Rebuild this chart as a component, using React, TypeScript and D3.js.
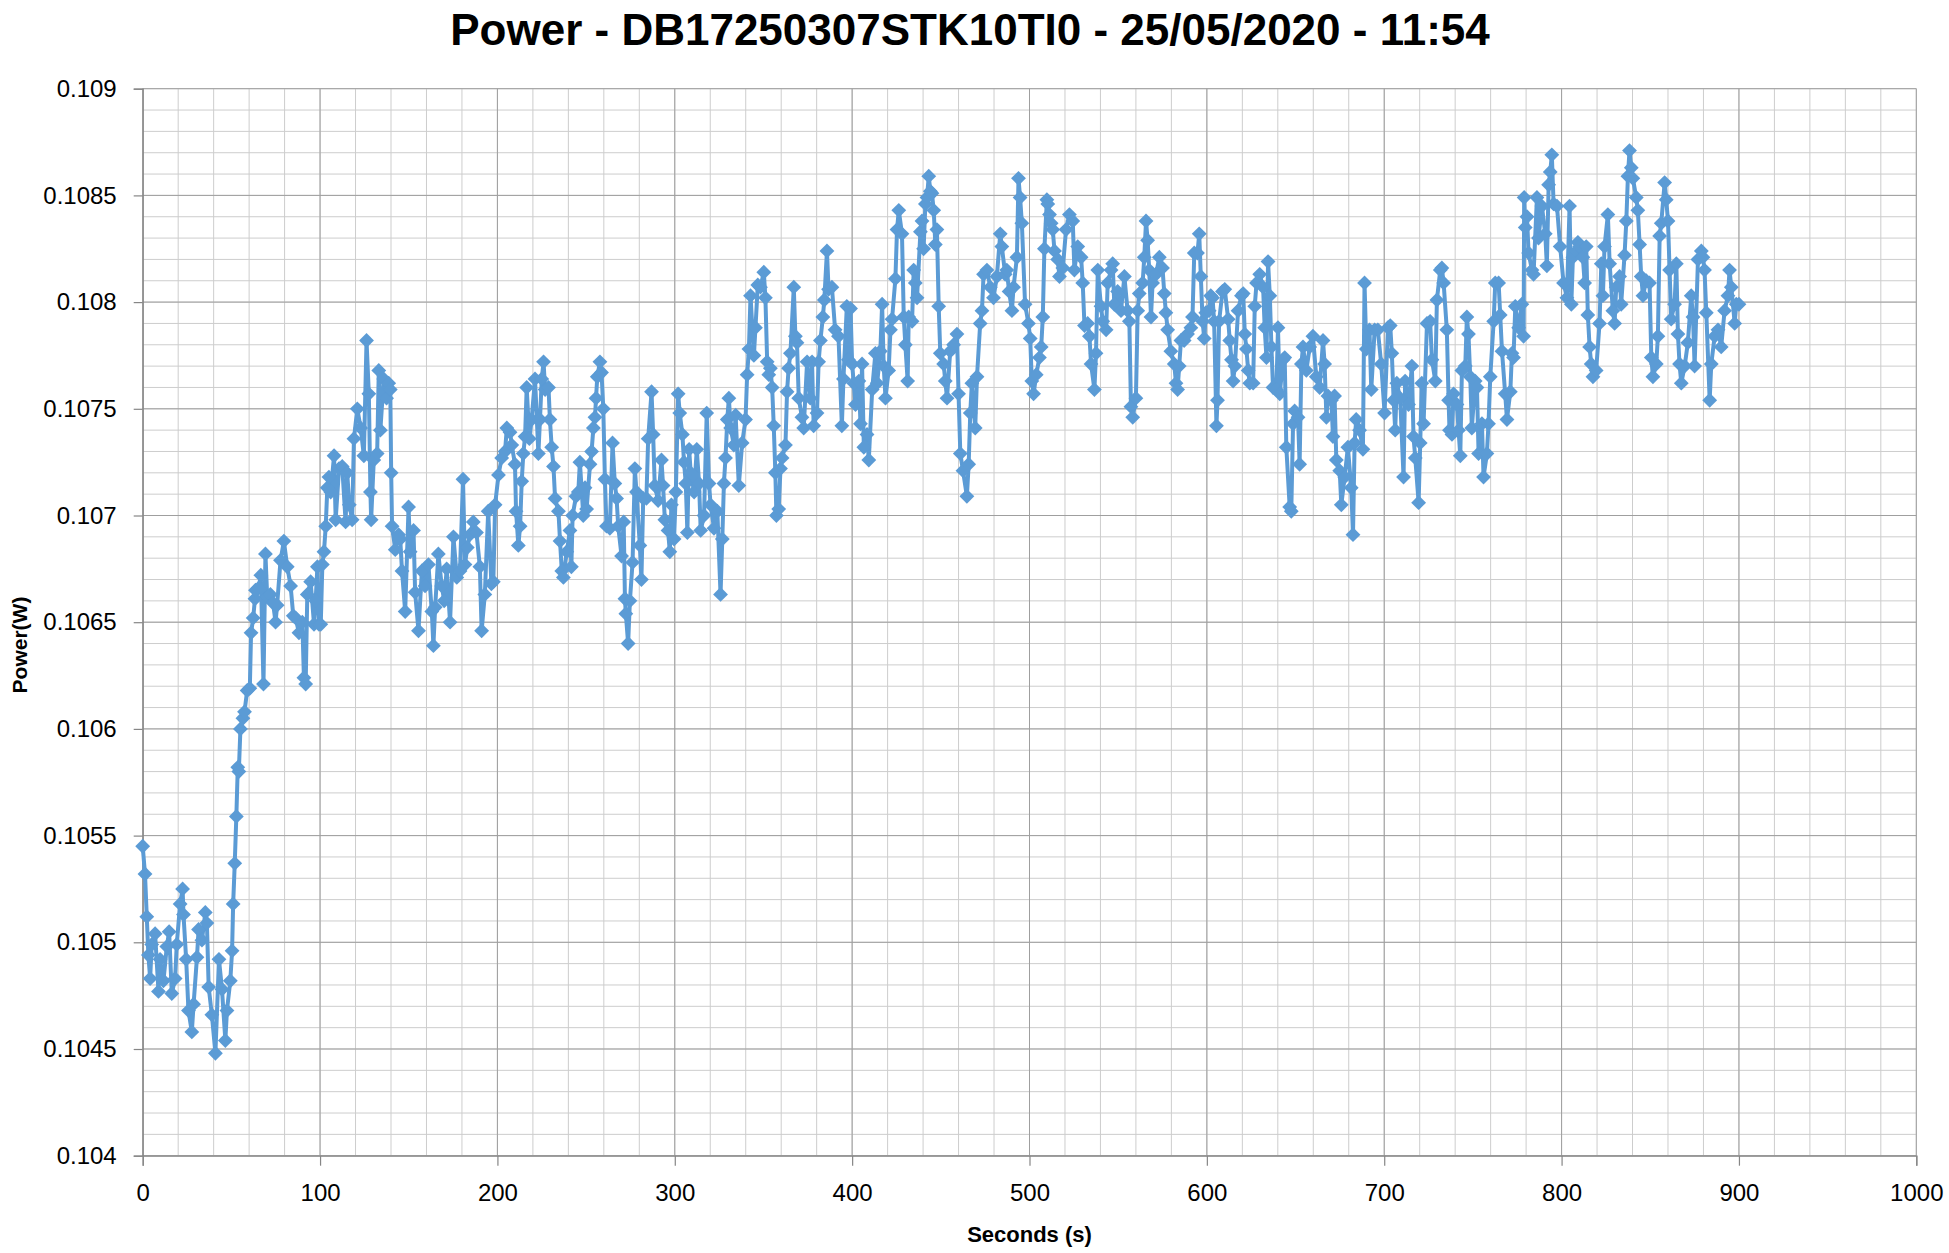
import React, { useEffect, useRef } from 'react';
import * as d3 from 'd3';

// elapsed time of each reading (s)
const seconds = [
  0, 1.3, 2.3, 3.2, 4.2, 5.1, 7.0, 8.9, 9.8, 11.7,
  13.6, 14.9, 16.4, 18.3, 19.2, 21.1, 22.5, 23.0, 24.5, 25.8,
  27.7, 28.7, 30.6, 31.5, 33.4, 35.3, 36.2, 37.2, 39.0, 41.0,
  43.0, 44.7, 46.6, 47.5, 49.4, 50.4, 51.0, 51.9, 52.8, 53.6,
  54.2, 55.1, 56.5, 57.4, 58.9, 60.4, 61.1, 62.3, 63.3, 63.6,
  65.3, 66.6, 68.1, 69.2, 70.2, 72.0, 73.5, 74.9, 75.8, 77.7,
  79.6, 81.5, 83.4, 84.9, 86.2, 88.1, 90.0, 90.9, 91.9, 92.8,
  94.7, 96.6, 97.5, 98.5, 99.4, 100.4, 101.3, 102.2, 103.2, 104.1,
  105.0, 106.0, 107.9, 108.8, 110.7, 112.5, 114.4, 115.3, 116.5, 118.1,
  119.1, 121.0, 122.9, 124.7, 126.2, 127.5, 128.4, 128.8, 130.3, 132.2,
  133.1, 134.0, 135.9, 137.5, 138.7, 139.6, 140.1, 140.6, 142.4, 144.3,
  145.2, 146.2, 148.0, 149.9, 150.8, 152.7, 153.6, 155.5, 157.4, 159.2,
  161.1, 163.0, 163.9, 164.9, 166.7, 168.6, 170.0, 171.4, 173.3, 175.2,
  177.1, 178.9, 180.6, 181.7, 183.0, 184.5, 186.4, 188.2, 190.1, 191.1,
  192.9, 194.8, 196.6, 197.7, 198.7, 200.6, 202.4, 204.3, 205.3, 207.1,
  208.1, 209.9, 210.5, 211.8, 212.8, 213.7, 214.6, 215.6, 216.5, 218.0,
  219.3, 221.2, 223.1, 224.0, 225.0, 226.0, 226.9, 228.8, 229.6, 230.6,
  231.6, 232.5, 234.4, 235.3, 236.3, 237.2, 239.1, 240.9, 241.7, 242.4,
  244.3, 245.6, 246.5, 248.4, 249.4, 250.3, 252.2, 253.1, 254.1, 255.0,
  255.6, 256.3, 257.8, 258.7, 259.7, 260.6, 261.5, 263.4, 264.9, 266.2,
  267.2, 268.1, 270.0, 271.2, 271.9, 272.4, 273.7, 274.7, 276.2, 277.5,
  278.4, 280.3, 281.2, 282.2, 284.0, 285.0, 286.9, 287.8, 288.7, 290.6,
  292.5, 293.4, 294.4, 296.2, 297.2, 298.1, 299.6, 300.6, 301.9, 302.8,
  304.3, 305.2, 306.2, 307.1, 308.1, 309.0, 310.9, 312.4, 313.7, 314.6,
  316.5, 318.0, 319.3, 320.2, 322.1, 324.0, 325.8, 326.8, 327.7, 328.6,
  329.6, 330.5, 331.5, 333.3, 334.3, 336.1, 338.0, 339.9, 340.8, 341.8,
  342.7, 344.6, 345.5, 346.8, 348.3, 350.2, 351.1, 352.1, 353.0, 353.9,
  354.9, 355.8, 356.7, 357.3, 358.6, 359.6, 360.5, 362.4, 363.3, 364.2,
  365.2, 367.1, 368.0, 368.9, 369.9, 371.7, 372.7, 374.6, 376.4, 377.4,
  378.3, 380.2, 381.1, 382.1, 383.5, 384.3, 385.8, 386.7, 388.6, 390.4,
  392.3, 394.2, 395.1, 397.0, 397.9, 399.1, 400.0, 400.9, 401.9, 403.8,
  404.7, 405.6, 406.6, 408.4, 409.4, 411.3, 413.1, 414.1, 415.9, 416.9,
  417.8, 418.8, 420.6, 421.6, 422.5, 424.4, 425.3, 426.3, 428.1, 429.1,
  430.0, 431.3, 431.9, 433.8, 434.7, 435.6, 436.6, 438.5, 439.4, 440.3,
  441.3, 442.2, 443.2, 444.1, 445.0, 446.0, 446.9, 447.8, 448.8, 449.7,
  451.6, 452.5, 453.5, 455.3, 457.2, 459.1, 460.0, 461.0, 462.5, 464.7,
  465.7, 466.6, 467.5, 469.4, 470.4, 472.2, 473.2, 474.1, 476.0, 477.9,
  479.7, 481.6, 483.5, 484.4, 486.3, 487.2, 488.5, 490.1, 491.0, 492.9,
  493.8, 494.7, 495.7, 497.5, 499.4, 500.4, 501.3, 502.3, 503.8, 505.6,
  506.6, 507.5, 508.4, 509.8, 510.3, 511.3, 512.2, 513.1, 514.1, 515.9,
  516.9, 518.8, 520.6, 522.5, 524.4, 525.3, 527.2, 529.1, 530.0, 531.0,
  532.8, 533.8, 534.7, 536.6, 537.5, 538.5, 540.3, 541.3, 543.2, 544.1,
  546.0, 546.9, 547.8, 549.7, 551.6, 553.5, 555.3, 556.3, 557.2, 558.2,
  560.0, 561.0, 561.9, 563.8, 564.7, 565.7, 566.6, 567.5, 568.5, 569.4,
  571.3, 573.2, 575.0, 576.0, 576.9, 577.9, 579.7, 581.6, 582.6, 583.5,
  584.4, 585.4, 587.2, 589.1, 591.0, 591.9, 592.9, 594.7, 595.7, 596.6,
  597.6, 598.5, 599.4, 601.3, 602.2, 603.2, 604.1, 605.4, 606.0, 606.9,
  608.8, 610.1, 612.0, 612.9, 613.9, 614.8, 615.8, 617.6, 619.5, 620.5,
  621.4, 622.3, 623.3, 624.2, 626.1, 627.0, 628.0, 629.8, 631.7, 632.6,
  633.6, 634.5, 635.5, 636.4, 637.3, 639.2, 640.1, 641.1, 643.0, 643.9,
  644.8, 646.7, 647.6, 648.6, 649.5, 651.4, 652.3, 653.3, 654.2, 656.1,
  658.0, 659.8, 661.7, 663.6, 665.5, 666.4, 667.4, 668.3, 670.2, 671.1,
  672.0, 673.0, 674.9, 675.8, 677.7, 679.5, 681.4, 682.4, 683.3, 684.2,
  686.1, 688.0, 688.9, 689.9, 691.7, 692.7, 694.6, 696.4, 698.3, 700.2,
  702.1, 703.4, 704.3, 705.3, 706.2, 707.1, 709.0, 710.9, 711.8, 713.7,
  715.6, 716.5, 717.5, 719.4, 720.3, 721.2, 722.2, 724.1, 725.9, 726.9,
  728.8, 729.7, 731.6, 732.5, 733.5, 735.3, 736.3, 736.8, 738.2, 739.1,
  741.0, 741.9, 742.9, 743.8, 745.7, 746.6, 747.5, 748.5, 749.4, 751.3,
  752.3, 753.2, 755.1, 756.0, 757.9, 758.8, 759.8, 761.7, 762.6, 764.5,
  765.4, 766.4, 768.2, 769.2, 771.1, 772.0, 772.9, 773.9, 775.8, 777.6,
  778.6, 778.9, 779.5, 780.5, 781.4, 783.3, 784.2, 786.1, 787.0, 788.9,
  790.8, 791.7, 792.7, 793.6, 794.5, 795.5, 797.4, 799.2, 801.1, 803.0,
  804.5, 805.5, 806.4, 808.3, 809.2, 810.2, 812.0, 813.0, 813.9, 814.8,
  815.8, 816.7, 817.7, 819.5, 821.4, 822.4, 823.3, 824.2, 826.1, 827.1,
  828.9, 829.9, 830.8, 832.7, 833.6, 835.5, 836.5, 837.4, 838.3, 839.3,
  840.2, 842.1, 843.0, 844.0, 844.9, 845.9, 847.7, 849.6, 850.6, 851.5,
  853.4, 854.3, 855.3, 856.2, 858.1, 859.0, 860.0, 860.9, 861.8, 863.7,
  864.7, 865.6, 866.5, 867.5, 869.4, 871.2, 873.1, 874.1, 875.0, 876.9,
  878.8, 879.7, 880.6, 881.6, 883.5, 884.4, 886.3, 888.2, 890.0, 891.9,
  893.8, 894.7, 895.7, 897.6, 898.5, 900.0,
];

// measured power (W), same order as seconds
const powerW = [
  0.10545, 0.10532, 0.10512, 0.10494, 0.10483, 0.10499, 0.10504, 0.10477, 0.10492, 0.10482,
  0.10498, 0.10505, 0.10476, 0.10483, 0.10499, 0.10518, 0.10525, 0.10513, 0.10492, 0.10468,
  0.10458, 0.10471, 0.10493, 0.10506, 0.10501, 0.10514, 0.10509, 0.10479, 0.10466, 0.10448,
  0.10492, 0.10478, 0.10454, 0.10468, 0.10482, 0.10496, 0.10518, 0.10537, 0.10559, 0.10582,
  0.10580, 0.10600, 0.10605, 0.10608, 0.10618, 0.10619, 0.10645, 0.10652, 0.10661, 0.10665,
  0.10666, 0.10672, 0.10621, 0.10682, 0.10662, 0.10663, 0.10659, 0.10650, 0.10658, 0.10679,
  0.10688, 0.10676, 0.10667, 0.10653, 0.10652, 0.10645, 0.10650, 0.10624, 0.10621, 0.10663,
  0.10669, 0.10649, 0.10660, 0.10676, 0.10649, 0.10649, 0.10677, 0.10683, 0.10695, 0.10713,
  0.10718, 0.10711, 0.10728, 0.10698, 0.10722, 0.10723, 0.10697, 0.10720, 0.10705, 0.10698,
  0.10736, 0.10750, 0.10741, 0.10728, 0.10782, 0.10757, 0.10711, 0.10698, 0.10726, 0.10729,
  0.10768, 0.10740, 0.10764, 0.10755, 0.10762, 0.10759, 0.10720, 0.10695, 0.10684, 0.10691,
  0.10689, 0.10674, 0.10655, 0.10704, 0.10683, 0.10693, 0.10664, 0.10646, 0.10674, 0.10667,
  0.10677, 0.10655, 0.10639, 0.10657, 0.10682, 0.10667, 0.10660, 0.10675, 0.10650, 0.10690,
  0.10671, 0.10674, 0.10717, 0.10677, 0.10685, 0.10691, 0.10697, 0.10692, 0.10676, 0.10646,
  0.10663, 0.10702, 0.10668, 0.10669, 0.10705, 0.10719, 0.10727, 0.10730, 0.10741, 0.10739,
  0.10733, 0.10724, 0.10702, 0.10686, 0.10695, 0.10716, 0.10729, 0.10737, 0.10760, 0.10736,
  0.10745, 0.10764, 0.10729, 0.10745, 0.10764, 0.10772, 0.10759, 0.10760, 0.10745, 0.10732,
  0.10723, 0.10708, 0.10702, 0.10688, 0.10674, 0.10671, 0.10683, 0.10693, 0.10676, 0.10700,
  0.10709, 0.10711, 0.10725, 0.10700, 0.10713, 0.10703, 0.10724, 0.10730, 0.10741, 0.10746,
  0.10755, 0.10765, 0.10772, 0.10767, 0.10750, 0.10717, 0.10695, 0.10694, 0.10734, 0.10715,
  0.10708, 0.10695, 0.10681, 0.10697, 0.10661, 0.10654, 0.10640, 0.10660, 0.10678, 0.10722,
  0.10711, 0.10686, 0.10670, 0.10708, 0.10708, 0.10736, 0.10758, 0.10738, 0.10714, 0.10707,
  0.10726, 0.10714, 0.10698, 0.10693, 0.10683, 0.10705, 0.10689, 0.10711, 0.10757, 0.10748,
  0.10738, 0.10725, 0.10715, 0.10692, 0.10731, 0.10720, 0.10711, 0.10731, 0.10715, 0.10693,
  0.10700, 0.10748, 0.10715, 0.10705, 0.10694, 0.10702, 0.10663, 0.10689, 0.10715, 0.10727,
  0.10745, 0.10755, 0.10741, 0.10733, 0.10747, 0.10714, 0.10734, 0.10745, 0.10766, 0.10778,
  0.10803, 0.10775, 0.10788, 0.10808, 0.10807, 0.10814, 0.10802, 0.10772, 0.10766, 0.10769,
  0.10760, 0.10742, 0.10720, 0.10700, 0.10703, 0.10722, 0.10727, 0.10733, 0.10758, 0.10769,
  0.10776, 0.10807, 0.10784, 0.10781, 0.10755, 0.10746, 0.10741, 0.10772, 0.10755, 0.10772,
  0.10742, 0.10748, 0.10772, 0.10782, 0.10793, 0.10801, 0.10824, 0.10806, 0.10807, 0.10787,
  0.10784, 0.10742, 0.10764, 0.10798, 0.10773, 0.10797, 0.10771, 0.10762, 0.10752, 0.10763,
  0.10743, 0.10771, 0.10732, 0.10738, 0.10726, 0.10759, 0.10776, 0.10762, 0.10777, 0.10799,
  0.10770, 0.10755, 0.10768, 0.10787, 0.10792, 0.10811, 0.10834, 0.10843, 0.10832, 0.10793,
  0.10780, 0.10763, 0.10793, 0.10791, 0.10815, 0.10809, 0.10802, 0.10833, 0.10838, 0.10825,
  0.10846, 0.10849, 0.10859, 0.10852, 0.10851, 0.10843, 0.10827, 0.10834, 0.10798, 0.10776,
  0.10771, 0.10763, 0.10755, 0.10777, 0.10780, 0.10785, 0.10757, 0.10729, 0.10721, 0.10709,
  0.10724, 0.10748, 0.10762, 0.10741, 0.10765, 0.10790, 0.10796, 0.10813, 0.10815, 0.10807,
  0.10802, 0.10812, 0.10832, 0.10826, 0.10813, 0.10815, 0.10805, 0.10796, 0.10807, 0.10821,
  0.10858, 0.10849, 0.10837, 0.10799, 0.10790, 0.10783, 0.10763, 0.10757, 0.10766, 0.10774,
  0.10779, 0.10793, 0.10825, 0.10848, 0.10846, 0.10841, 0.10837, 0.10834, 0.10824, 0.10820,
  0.10812, 0.10816, 0.10834, 0.10841, 0.10838, 0.10815, 0.10826, 0.10821, 0.10809, 0.10789,
  0.10790, 0.10784, 0.10771, 0.10759, 0.10776, 0.10815, 0.10798, 0.10791, 0.10787, 0.10809,
  0.10815, 0.10818, 0.10799, 0.10805, 0.10796, 0.10812, 0.10796, 0.10791, 0.10751, 0.10746,
  0.10755, 0.10796, 0.10804, 0.10809, 0.10821, 0.10838, 0.10829, 0.10815, 0.10793, 0.10809,
  0.10813, 0.10821, 0.10816, 0.10804, 0.10795, 0.10787, 0.10777, 0.10771, 0.10762, 0.10759,
  0.10770, 0.10782, 0.10782, 0.10785, 0.10788, 0.10793, 0.10823, 0.10823, 0.10832, 0.10812,
  0.10791, 0.10783, 0.10795, 0.10796, 0.10803, 0.10802, 0.10791, 0.10742, 0.10754, 0.10791,
  0.10805, 0.10806, 0.10792, 0.10782, 0.10773, 0.10763, 0.10770, 0.10796, 0.10803, 0.10804,
  0.10785, 0.10778, 0.10768, 0.10762, 0.10762, 0.10798, 0.10809, 0.10813, 0.10807, 0.10788,
  0.10774, 0.10819, 0.10803, 0.10779, 0.10760, 0.10759, 0.10788, 0.10757, 0.10773, 0.10774,
  0.10732, 0.10704, 0.10702, 0.10743, 0.10749, 0.10746, 0.10724, 0.10771, 0.10779, 0.10768,
  0.10779, 0.10784, 0.10765, 0.10760, 0.10782, 0.10771, 0.10746, 0.10756, 0.10754, 0.10737,
  0.10756, 0.10726, 0.10721, 0.10705, 0.10718, 0.10732, 0.10713, 0.10691, 0.10734, 0.10745,
  0.10740, 0.10731, 0.10809, 0.10778, 0.10787, 0.10759, 0.10787, 0.10787, 0.10771, 0.10748,
  0.10788, 0.10789, 0.10776, 0.10754, 0.10740, 0.10762, 0.10755, 0.10718, 0.10763, 0.10752,
  0.10770, 0.10737, 0.10727, 0.10706, 0.10734, 0.10762, 0.10743, 0.10790, 0.10791, 0.10773,
  0.10763, 0.10801, 0.10815, 0.10816, 0.10809, 0.10787, 0.10754, 0.10740, 0.10738, 0.10757,
  0.10752, 0.10740, 0.10728, 0.10768, 0.10770, 0.10793, 0.10785, 0.10765, 0.10741, 0.10763,
  0.10760, 0.10729, 0.10743, 0.10718, 0.10729, 0.10743, 0.10765, 0.10791, 0.10809, 0.10809,
  0.10794, 0.10777, 0.10757, 0.10745, 0.10758, 0.10776, 0.10774, 0.10798, 0.10788, 0.10799,
  0.10784, 0.10849, 0.10835, 0.10840, 0.10823, 0.10815, 0.10813, 0.10849, 0.10830, 0.10845,
  0.10832, 0.10817, 0.10855, 0.10861, 0.10869, 0.10846, 0.10845, 0.10826, 0.10809, 0.10802,
  0.10845, 0.10799, 0.10821, 0.10824, 0.10828, 0.10826, 0.10821, 0.10809, 0.10826, 0.10794,
  0.10779, 0.10771, 0.10765, 0.10768, 0.10790, 0.10818, 0.10803, 0.10826, 0.10841, 0.10818,
  0.10796, 0.10790, 0.10807, 0.10812, 0.10799, 0.10822, 0.10838, 0.10859, 0.10871, 0.10863,
  0.10858, 0.10849, 0.10843, 0.10827, 0.10812, 0.10803, 0.10810, 0.10809, 0.10774, 0.10765,
  0.10771, 0.10784, 0.10831, 0.10837, 0.10856, 0.10848, 0.10838, 0.10815, 0.10792, 0.10799,
  0.10818, 0.10785, 0.10771, 0.10762, 0.10770, 0.10781, 0.10803, 0.10793, 0.10770, 0.10820,
  0.10824, 0.10821, 0.10815, 0.10795, 0.10754, 0.10771, 0.10784, 0.10787, 0.10779, 0.10796,
  0.10803, 0.10815, 0.10807, 0.10790, 0.10799, 0.10799,
];

const xTicks = [0, 100, 200, 300, 400, 500, 600, 700, 800, 900, 1000];
const yTicks = [0.104, 0.1045, 0.105, 0.1055, 0.106, 0.1065, 0.107, 0.1075, 0.108, 0.1085, 0.109];

const TITLE = 'Power - DB17250307STK10TI0 - 25/05/2020 - 11:54';
const X_LABEL = 'Seconds (s)';
const Y_LABEL = 'Power(W)';

const WIDTH = 1949;
const HEIGHT = 1253;
const FONT = '"Liberation Sans", Arial, sans-serif';
const SERIES_COLOR = '#5b9bd5';

const App: React.FC = () => {
  const svgRef = useRef<SVGSVGElement>(null);

  useEffect(() => {
    if (!svgRef.current) return;
    const svg = d3.select(svgRef.current);
    svg.selectAll('*').remove();

    const margin = { top: 88.7, right: WIDTH - 1916.3, bottom: HEIGHT - 1155.7, left: 142.7 };
    const w = WIDTH - margin.left - margin.right;
    const h = HEIGHT - margin.top - margin.bottom;

    const x = d3.scaleLinear().domain([0, 1000]).range([0, w]);
    const y = d3.scaleLinear().domain([0.104, 0.109]).range([h, 0]);

    const g = svg.append('g').attr('transform', `translate(${margin.left},${margin.top})`);

    // minor grid (20 s / 0.0001 W)
    const minorX = x.ticks(50);
    const minorY = y.ticks(50);
    g.append('g').selectAll('line').data(minorX).join('line')
      .attr('x1', d => x(d)).attr('x2', d => x(d)).attr('y1', 0).attr('y2', h)
      .attr('stroke', '#cdcdcd').attr('stroke-width', 1);
    g.append('g').selectAll('line').data(minorY).join('line')
      .attr('x1', 0).attr('x2', w).attr('y1', d => y(d)).attr('y2', d => y(d))
      .attr('stroke', '#cdcdcd').attr('stroke-width', 1);

    // major grid
    g.append('g').selectAll('line').data(xTicks).join('line')
      .attr('x1', d => x(d)).attr('x2', d => x(d)).attr('y1', 0).attr('y2', h)
      .attr('stroke', '#9f9f9f').attr('stroke-width', 1);
    g.append('g').selectAll('line').data(yTicks).join('line')
      .attr('x1', 0).attr('x2', w).attr('y1', d => y(d)).attr('y2', d => y(d))
      .attr('stroke', '#9f9f9f').attr('stroke-width', 1);

    // axes
    const xAxis = g.append('g')
      .attr('transform', `translate(0,${h})`)
      .call(d3.axisBottom(x).tickValues(xTicks).tickSize(10).tickPadding(18).tickFormat(d => String(d)));
    const yAxis = g.append('g')
      .call(d3.axisLeft(y).tickValues(yTicks).tickSize(9).tickPadding(17).tickFormat(d => String(d)));

    [xAxis, yAxis].forEach(ax => {
      ax.select('.domain').attr('stroke', '#868686').attr('stroke-width', 1.3);
      ax.selectAll('.tick line').attr('stroke', '#868686').attr('stroke-width', 1.2);
      ax.selectAll('.tick text')
        .attr('fill', '#000')
        .attr('font-family', FONT)
        .attr('font-size', 24);
    });

    // series
    const pts = seconds.map((s, i) => ({ s, p: powerW[i] })).filter(d => d.p !== undefined);

    const line = d3.line<{ s: number; p: number }>()
      .x(d => x(d.s))
      .y(d => y(d.p));

    g.append('path')
      .attr('d', line(pts) || '')
      .attr('fill', 'none')
      .attr('stroke', SERIES_COLOR)
      .attr('stroke-width', 4)
      .attr('stroke-linejoin', 'round');

    const diamond = d3.symbol().type(d3.symbolSquare).size(110)();
    g.append('g').selectAll('path').data(pts).join('path')
      .attr('d', diamond)
      .attr('transform', d => `translate(${x(d.s)},${y(d.p)}) rotate(45)`)
      .attr('fill', SERIES_COLOR);

    // titles
    svg.append('text')
      .attr('x', 970).attr('y', 45)
      .attr('text-anchor', 'middle')
      .attr('font-family', FONT).attr('font-weight', 'bold').attr('font-size', 44)
      .attr('fill', '#000')
      .text(TITLE);

    svg.append('text')
      .attr('x', margin.left + w / 2).attr('y', 1242)
      .attr('text-anchor', 'middle')
      .attr('font-family', FONT).attr('font-weight', 'bold').attr('font-size', 22)
      .attr('fill', '#000')
      .text(X_LABEL);

    svg.append('text')
      .attr('transform', 'translate(27,645) rotate(-90)')
      .attr('text-anchor', 'middle')
      .attr('font-family', FONT).attr('font-weight', 'bold').attr('font-size', 21)
      .attr('fill', '#000')
      .text(Y_LABEL);
  }, []);

  return (
    <svg
      ref={svgRef}
      width={WIDTH}
      height={HEIGHT}
      style={{ position: 'absolute', left: 0, top: 0, background: '#fff' }}
    />
  );
};

export default App;
